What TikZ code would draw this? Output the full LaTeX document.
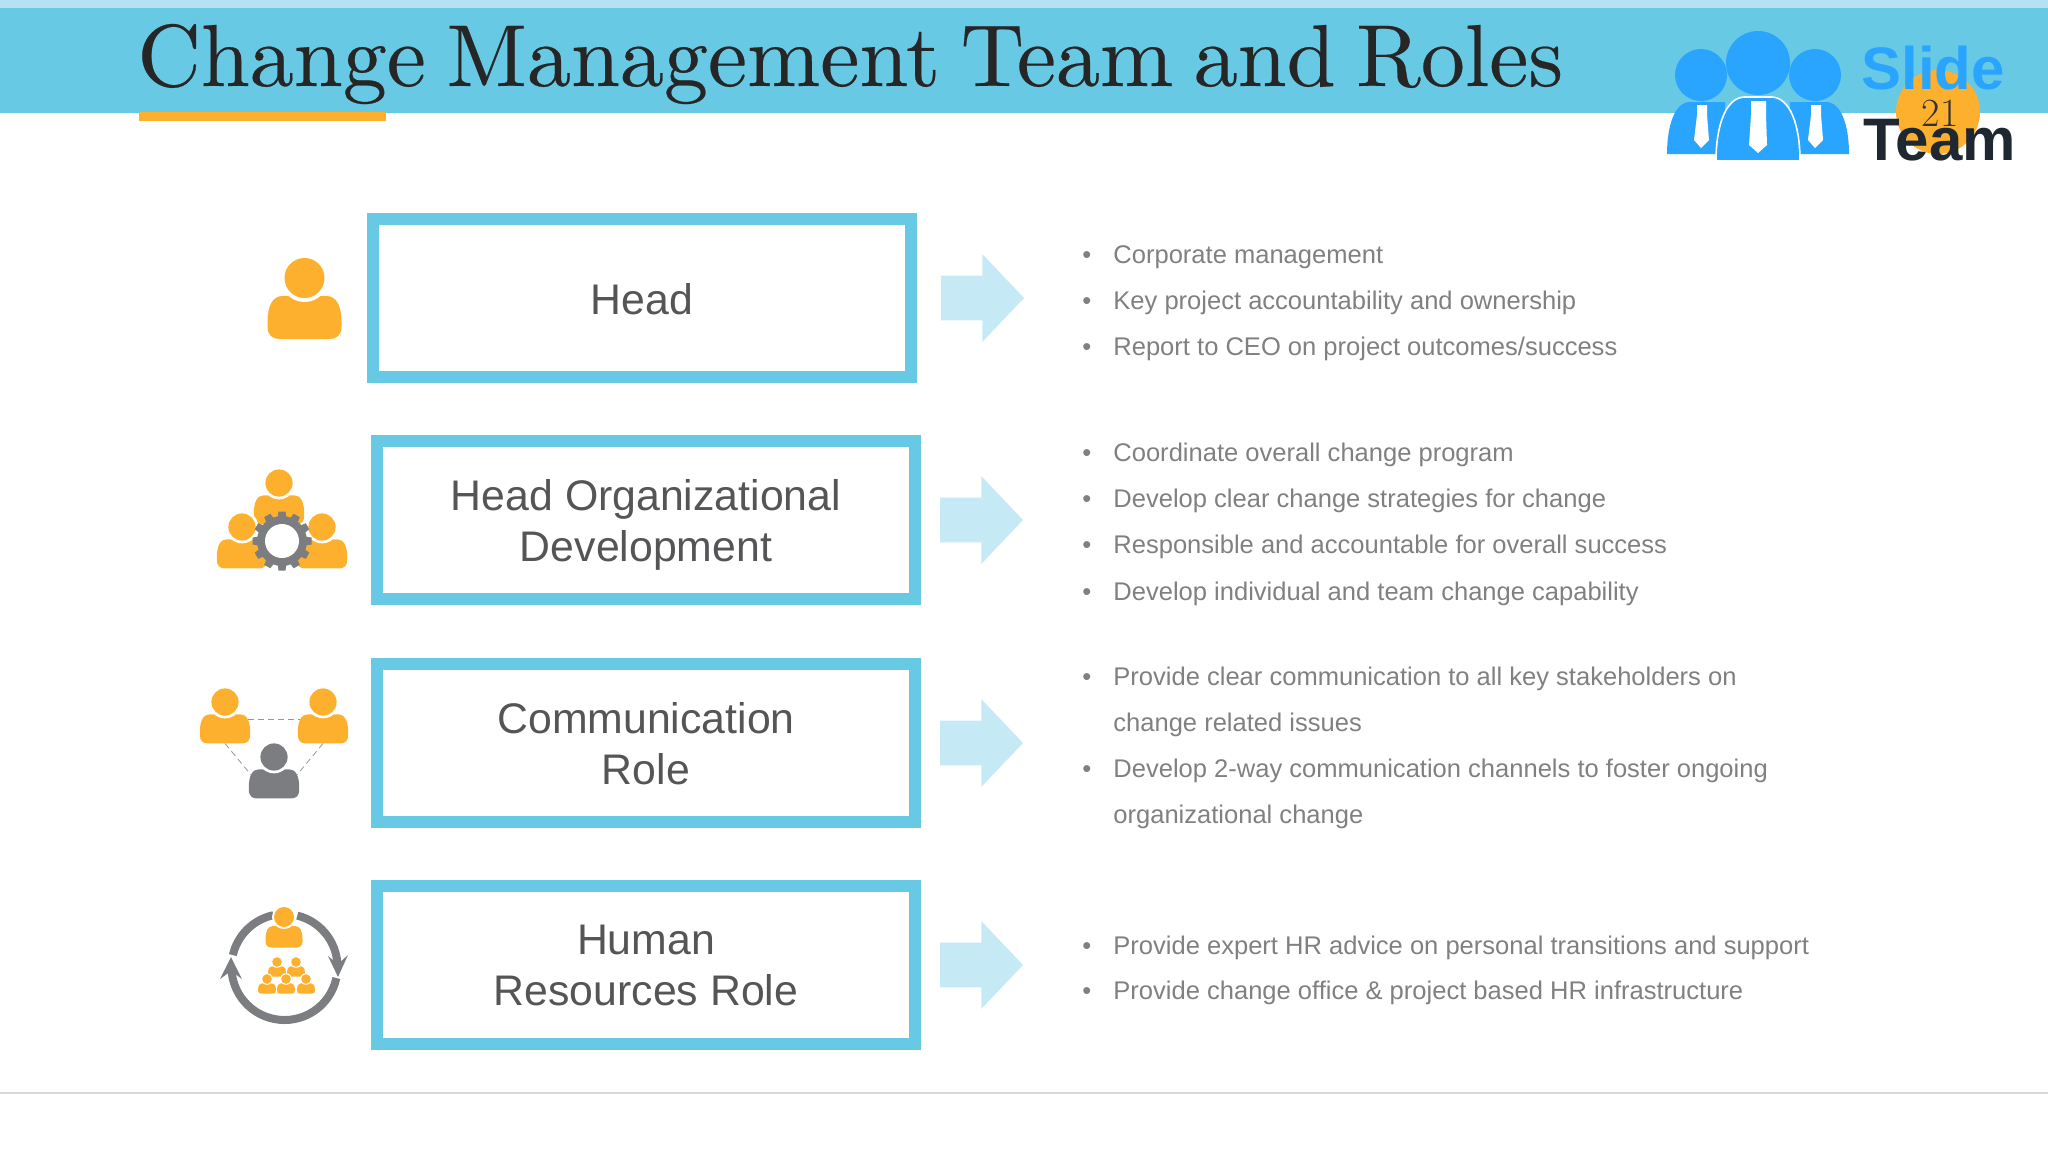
\documentclass[tikz,border=0pt]{standalone}
\usepackage{fontspec}
\setsansfont{Liberation Sans}
\newfontfamily\titlefont[FakeBold=0.25,WordSpace=0.7]{lmroman10-regular.otf}
\usetikzlibrary{positioning,shapes.arrows}
\definecolor{bandlight}{HTML}{B3E3F2}
\definecolor{bandblue}{HTML}{68C9E4}
\definecolor{arrowblue}{HTML}{C6EAF5}
\definecolor{roleorange}{HTML}{FDB02D}
\definecolor{icongray}{HTML}{7B7D80}
\definecolor{itemgray}{HTML}{808082}
\definecolor{boxtext}{HTML}{555557}
\definecolor{logoblue}{HTML}{2AA5FF}
\definecolor{logodark}{HTML}{1F2730}
\newcommand{\boxstrut}{\rule[-5pt]{0pt}{25.5pt}}
\tikzset{
	rolebox/.style={draw=bandblue,line width=6pt,fill=white,minimum width=269pt,minimum height=79pt,inner sep=0pt},
	roletext/.style={inner sep=0pt,align=center,text=boxtext,font=\sffamily\fontsize{21.4}{25.5}\selectfont,execute at begin node=\boxstrut,execute at end node=\boxstrut},
	flowarrow/.style={single arrow,fill=arrowblue,minimum width=43.5pt,minimum height=41.5pt,single arrow head extend=10.75pt,single arrow tip angle=93,inner xsep=0pt,inner ysep=11pt,outer sep=0pt},
	itemtext/.style={anchor=base west,inner sep=0pt,text=itemgray,font=\sffamily\fontsize{12.77}{15}\selectfont},
	linkdash/.style={icongray!80,line width=.4pt,densely dashed},
	person/.pic={
		\fill[pic actions] (-37,44) .. controls (-37,28) and (-32,18) .. (-22,18) -- (22,18) .. controls (32,18) and (37,28) .. (37,44) -- (37,49) .. controls (37,57) and (32,61) .. (25,61) -- (-25,61) .. controls (-32,61) and (-37,57) .. (-37,49) -- cycle;
		\fill[white] (0,0) circle (24);
		\fill[pic actions] (0,0) circle (20);
		\coordinate (-east) at (34,26);
		\coordinate (-west) at (-34,26);
		\coordinate (-south) at (0,61);
	}
}
\newcommand{\itembullet}{\llap{\textbullet\hspace{11pt}}}
\begin{document}
\begin{tikzpicture}[x=.5pt,y=-.5pt]
	\useasboundingbox (0,0) rectangle (2048,1152);
	\fill[bandlight] (0,0) rectangle (2048,8);
	\fill[bandblue] (0,8) rectangle (2048,113);
	\fill[roleorange] (139,112) rectangle (386,121);
	\node[anchor=base west,inner sep=0pt,text=black!85,font=\titlefont\fontsize{44}{50}\selectfont] (title) at (137,86) {Change Management Team and Roles};
	\fill[logoblue] (1667,154) .. controls (1667,125) and (1675,102) .. (1690,102) -- (1725,102) -- (1725,154) -- cycle;
	\fill[logoblue] (1849,154) .. controls (1849,125) and (1841,102) .. (1826,102) -- (1790,102) -- (1790,154) -- cycle;
	\fill[logoblue,draw=white,line width=.8pt] (1716,161) .. controls (1716,125) and (1726,97) .. (1745,97) -- (1771,97) .. controls (1790,97) and (1800,125) .. (1800,161) -- cycle;
	\fill[logoblue] (1701,75) circle (26);
	\fill[logoblue] (1815,75) circle (26);
	\fill[logoblue] (1758,63) circle (32);
	\fill[white] (1697,105) -- (1707,105) -- (1707,115) -- (1709,140) -- (1701,148) -- (1694,140) -- (1697,115) -- cycle;
	\fill[white] (1811,105) -- (1821,105) -- (1821,115) -- (1823,140) -- (1815,148) -- (1808,140) -- (1811,115) -- cycle;
	\fill[white] (1751,101) -- (1766,101) -- (1766,115) -- (1767,145) -- (1758,153) -- (1749,145) -- (1751,115) -- cycle;
	\fill[roleorange] (1938,112) circle (42);
	\node[anchor=base,inner sep=0pt,text=black!80,font=\fontsize{20}{20}\selectfont] (pagenum) at (1940,126) {21};
	\node[anchor=base west,inner sep=0pt,text=logoblue,font=\sffamily\bfseries\fontsize{30}{32}\selectfont] (slide) at (1861,89) {Slide};
	\node[anchor=base west,inner sep=0pt,text=logodark,font=\sffamily\bfseries\fontsize{30}{32}\selectfont] (team) at (1863,160) {Team};
	\node[rolebox] (head) at (642,298) {};
	\node[rolebox] (org) at (646,520) {};
	\node[rolebox] (comm) at (646,743) {};
	\node[rolebox] (hr) at (646,965) {};
	\node[roletext,yshift=-.5pt] (headtext) at (head) {Head};
	\node[roletext,yshift=-2.6pt] (orgtext) at (org) {Head Organizational\\Development};
	\node[roletext,yshift=-2.6pt] (commtext) at (comm) {Communication\\Role};
	\node[roletext,yshift=-2.6pt] (hrtext) at (hr) {Human\\Resources Role};
	\node[flowarrow,right=12pt of head] (headarrow) {};
	\node[flowarrow,right=9.5pt of org] (orgarrow) {};
	\node[flowarrow,right=9.5pt of comm] (commarrow) {};
	\node[flowarrow,right=9.5pt of hr] (hrarrow) {};
	\pic[fill=roleorange] (headman) at (304.5,278) {person};
	\pic[fill=roleorange,scale=.68] (orgtop) at (279,483) {person};
	\pic[fill=roleorange,scale=.68] (orgleft) at (242,527) {person};
	\pic[fill=roleorange,scale=.68] (orgright) at (322,527) {person};
	\foreach \a in {0,30,...,330}
		\fill[icongray,shift={(282,541)},rotate=\a] (-4.5,-22) -- (-3.5,-29.5) -- (3.5,-29.5) -- (4.5,-22) -- cycle;
	\fill[icongray] (282,541) circle (25);
	\fill[white] (282,541) circle (17);
	\pic[fill=roleorange,scale=.68] (commleft) at (225,702) {person};
	\pic[fill=roleorange,scale=.68] (commright) at (323,702) {person};
	\pic[fill=icongray,scale=.68] (commlow) at (274,757) {person};
	\draw[linkdash] (commleft-east) -- (commright-west);
	\draw[linkdash] (commleft-south) -- (commlow-west);
	\draw[linkdash] (commright-south) -- (commlow-east);
	\coordinate (ringc) at (284.5,967);
	\draw[icongray,line width=4pt] (ringc) ++(-76:53) arc[start angle=-76,end angle=-3,radius=53];
	\draw[icongray,line width=4pt] (ringc) ++(12:53) arc[start angle=12,end angle=177,radius=53];
	\draw[icongray,line width=4pt] (ringc) ++(193:53) arc[start angle=193,end angle=258,radius=53];
	\fill[icongray] (328,956) -- (338,964) -- (348,955) -- (338,977) -- cycle;
	\fill[icongray] (220,979) -- (231,971) -- (242,979) -- (231,957) -- cycle;
	\pic[fill=roleorange,scale=.5] (hrlead) at (284,917) {person};
	\pic[fill=roleorange,scale=.24] (hrteamA) at (277,962) {person};
	\pic[fill=roleorange,scale=.24] (hrteamB) at (296,962) {person};
	\pic[fill=roleorange,scale=.24] (hrteamC) at (267,979) {person};
	\pic[fill=roleorange,scale=.24] (hrteamD) at (286,979) {person};
	\pic[fill=roleorange,scale=.24] (hrteamE) at (306,979) {person};
	\node[itemtext] (headA) at (1113,263) {\itembullet Corporate management};
	\node[itemtext] (headB) at (1113,309) {\itembullet Key project accountability and ownership};
	\node[itemtext] (headC) at (1113,355) {\itembullet Report to CEO on project outcomes/success};
	\node[itemtext] (orgA) at (1113,461) {\itembullet Coordinate overall change program};
	\node[itemtext] (orgB) at (1113,507) {\itembullet Develop clear change strategies for change};
	\node[itemtext] (orgC) at (1113,553) {\itembullet Responsible and accountable for overall success};
	\node[itemtext] (orgD) at (1113,600) {\itembullet Develop individual and team change capability};
	\node[itemtext] (commA) at (1113,685) {\itembullet Provide clear communication to all key stakeholders on};
	\node[itemtext] (commB) at (1113,731) {change related issues};
	\node[itemtext] (commC) at (1113,777) {\itembullet Develop 2-way communication channels to foster ongoing};
	\node[itemtext] (commD) at (1113,823) {organizational change};
	\node[itemtext] (hrA) at (1113,954) {\itembullet Provide expert HR advice on personal transitions and support};
	\node[itemtext] (hrB) at (1113,999) {\itembullet Provide change office \& project based HR infrastructure};
	\coordinate (footl) at (0,1093);
	\coordinate (footr) at (2048,1093);
	\draw[black!15,line width=.8pt] (footl) -- (footr);
\end{tikzpicture}
\end{document}
